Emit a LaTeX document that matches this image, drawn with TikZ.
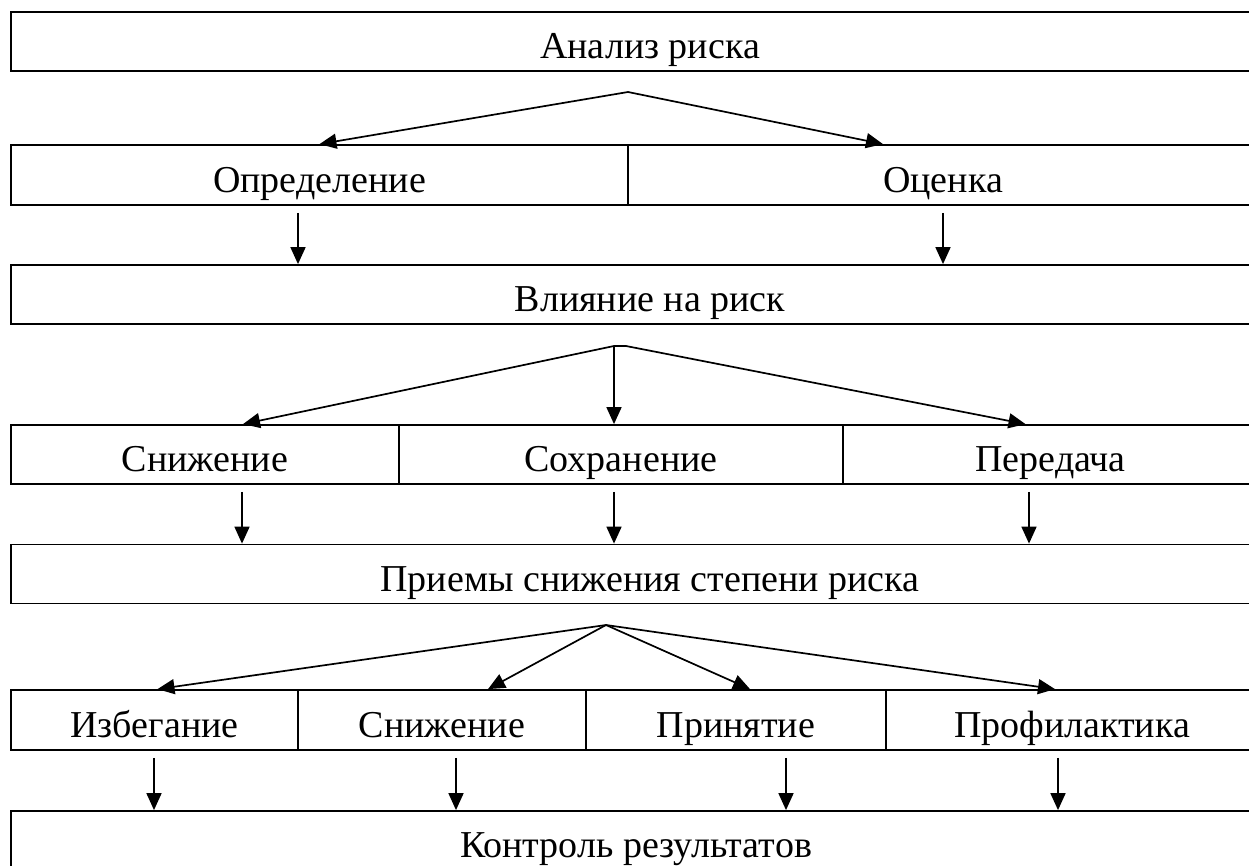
\documentclass[tikz,border=0pt]{standalone}
\usepackage{fontspec}
\setmainfont{Liberation Serif}
\usepackage{tikz}
\usetikzlibrary{positioning,arrows.meta,calc}

\begin{document}
\begin{tikzpicture}[
	x=1pt, y=-1pt,
	box/.style={rectangle, draw, line width=1.8pt, inner sep=0pt, minimum height=59pt,
		text height=44pt, text depth=10pt, font=\fontsize{38}{44}\selectfont},
	arr/.style={line width=1.7pt, -{Triangle[length=17pt,width=15pt]}}
	]
	\useasboundingbox (0,0) rectangle (1249,865);
	\clip (0,0) rectangle (1249,865);
	\node (an) [box, minimum width=1278pt] at (650,41.5) {Анализ риска};
	\node (op) [box, minimum width=617pt, minimum height=60pt] at (319.5,175) {Определение};
	\node (oc) [box, minimum width=630pt, minimum height=60pt] at (943,175) {Оценка};
	\node (vl) [box, minimum width=1278pt] at (650,294.5) {Влияние на риск};
	\node (sn) [box, minimum width=388pt] at (205,454.5) {Снижение};
	\node (so) [box, minimum width=444pt] at (621,454.5) {Сохранение};
	\node (pe) [box, minimum width=415pt] at (1050.5,454.5) {Передача};
	\node (pr) [box, minimum width=1278pt] at (650,574) {Приемы снижения степени риска};
	\node (iz) [box, minimum width=287pt, minimum height=60pt] at (154.5,720) {Избегание};
	\node (sn2) [box, minimum width=288pt, minimum height=60pt] at (442,720) {Снижение};
	\node (pn) [box, minimum width=300pt, minimum height=60pt] at (736,720) {Принятие};
	\node (pf) [box, minimum width=372pt, minimum height=60pt] at (1072,720) {Профилактика};
	\node (ko) [box, minimum width=1250pt] at (636,840.5) {Контроль результатов};

	\coordinate (f1) at (628,92);
	\draw[arr] (f1) -- (op.north);
	\draw[arr] (f1) -- ([xshift=-60]oc.north);

	\coordinate (f2) at (614,346);
	\draw[arr] (f2) -- ([xshift=38]sn.north);
	\draw[arr] (f2) -- (f2 |- so.north);
	\draw[arr] (f2) -- ++(12,0) -- ([xshift=-25]pe.north);

	\coordinate (f3) at (606,625);
	\draw[arr] (f3) -- ([xshift=3]iz.north);
	\draw[arr] (f3) -- ([xshift=46]sn2.north);
	\draw[arr] (f3) -- ([xshift=14]pn.north);
	\draw[arr] (f3) -- ([xshift=-17]pf.north);

	\foreach \x/\a/\b in {298/op/vl, 943/oc/vl, 242/sn/pr, 614/so/pr, 1029/pe/pr,
		154/iz/ko, 456/sn2/ko, 786/pn/ko, 1058/pf/ko}
		\draw[arr] ($(\a.south -| \x,0)+(0,7)$) -- (\x,0 |- \b.north);
\end{tikzpicture}
\end{document}
